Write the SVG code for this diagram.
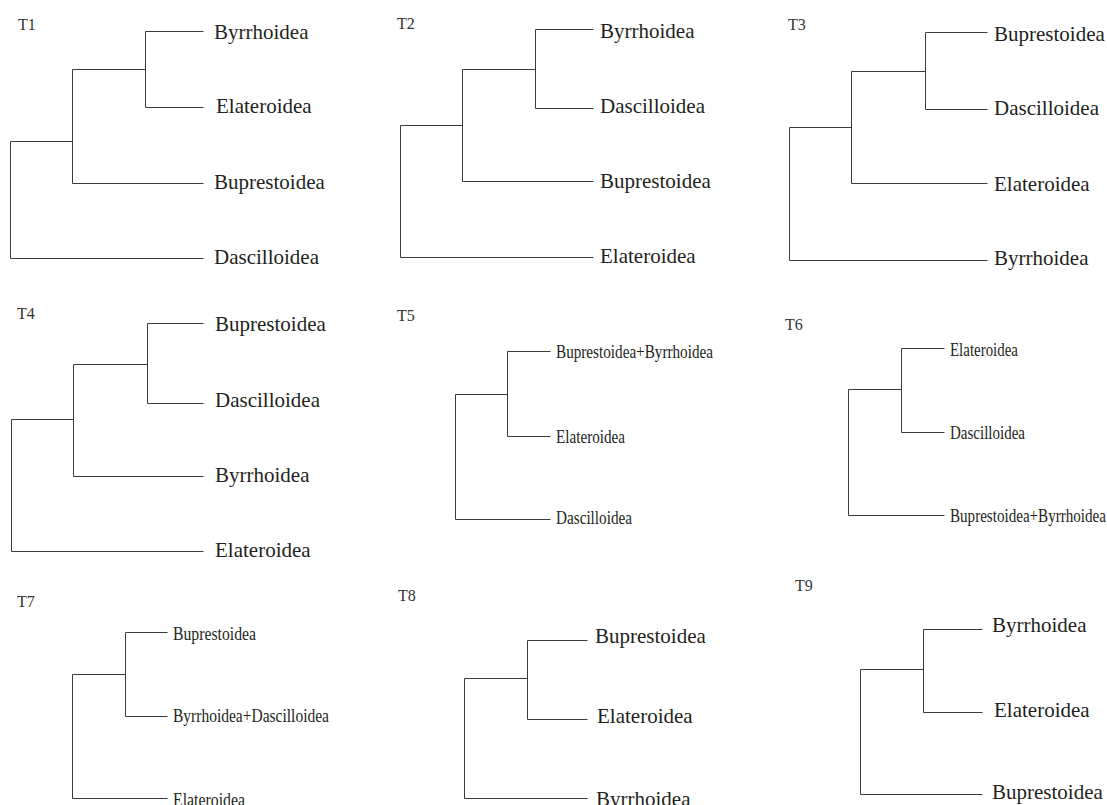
<svg xmlns="http://www.w3.org/2000/svg" width="1107" height="805" viewBox="0 0 1107 805">
<style>
.br{fill:none;stroke:#3a3a3a;stroke-width:1}
.tl{font-family:"Liberation Serif","Times New Roman",serif;font-size:16px;fill:#333}
.lf{font-family:"Liberation Serif","Times New Roman",serif;font-size:21px;fill:#231f20}
.lc{font-family:"Liberation Serif","Times New Roman",serif;font-size:19.5px;fill:#231f20}
</style>
<rect width="1107" height="805" fill="#fff"/>
<g id="connectors" transform="translate(0.5,0.5)">
<path class="br" d="M72,141 H10 V258 H203 M145,69 H72 V183 H203 M203,31 H145 V107 H203"/>
<path class="br" d="M462,125 H400 V257 H593 M535,69 H462 V181 H593 M593,29 H535 V108 H593"/>
<path class="br" d="M851,127 H789 V260 H987 M925,71 H851 V183 H987 M987,32 H925 V109 H987"/>
<path class="br" d="M73,419 H11 V551 H203 M147,364 H73 V476 H203 M203,323 H147 V403 H203"/>
<path class="br" d="M507,394 H455 V519 H550 M550,351 H507 V436 H550"/>
<path class="br" d="M901,389 H848 V515 H944 M944,348 H901 V432 H944"/>
<path class="br" d="M125,674 H72 V798 H167 M167,632 H125 V716 H167"/>
<path class="br" d="M527,678 H464 V798 H587 M587,640 H527 V719 H587"/>
<path class="br" d="M923,669 H860 V794 H982 M982,629 H923 V712 H982"/>
</g>
<g id="T1">
<text class="tl" x="18" y="30">T1</text>
<g id="t1-byrrhoidea"><text class="lf" x="214" y="39">Byrrhoidea</text></g>
<g id="t1-elateroidea"><text class="lf" x="216" y="113">Elateroidea</text></g>
<g id="t1-buprestoidea"><text class="lf" x="214" y="189">Buprestoidea</text></g>
<g id="t1-dascilloidea"><text class="lf" x="214" y="264">Dascilloidea</text></g>
</g>
<g id="T2">
<text class="tl" x="397" y="29">T2</text>
<g id="t2-byrrhoidea"><text class="lf" x="600" y="38">Byrrhoidea</text></g>
<g id="t2-dascilloidea"><text class="lf" x="600" y="113">Dascilloidea</text></g>
<g id="t2-buprestoidea"><text class="lf" x="600" y="188">Buprestoidea</text></g>
<g id="t2-elateroidea"><text class="lf" x="600" y="263">Elateroidea</text></g>
</g>
<g id="T3">
<text class="tl" x="788" y="30">T3</text>
<g id="t3-buprestoidea"><text class="lf" x="994" y="41">Buprestoidea</text></g>
<g id="t3-dascilloidea"><text class="lf" x="994" y="115">Dascilloidea</text></g>
<g id="t3-elateroidea"><text class="lf" x="994" y="191">Elateroidea</text></g>
<g id="t3-byrrhoidea"><text class="lf" x="994" y="265">Byrrhoidea</text></g>
</g>
<g id="T4">
<text class="tl" x="17" y="319">T4</text>
<g id="t4-buprestoidea"><text class="lf" x="215" y="331">Buprestoidea</text></g>
<g id="t4-dascilloidea"><text class="lf" x="215" y="407">Dascilloidea</text></g>
<g id="t4-byrrhoidea"><text class="lf" x="215" y="482">Byrrhoidea</text></g>
<g id="t4-elateroidea"><text class="lf" x="215" y="557">Elateroidea</text></g>
</g>
<g id="T5">
<text class="tl" x="397" y="321">T5</text>
<g id="t5-buprestoidea-byrrhoidea"><text class="lc" x="556" y="358" textLength="157" lengthAdjust="spacingAndGlyphs">Buprestoidea+Byrrhoidea</text></g>
<g id="t5-elateroidea"><text class="lc" x="556" y="443" textLength="69" lengthAdjust="spacingAndGlyphs">Elateroidea</text></g>
<g id="t5-dascilloidea"><text class="lc" x="556" y="524" textLength="76" lengthAdjust="spacingAndGlyphs">Dascilloidea</text></g>
</g>
<g id="T6">
<text class="tl" x="785" y="330">T6</text>
<g id="t6-elateroidea"><text class="lc" x="950" y="356" textLength="68" lengthAdjust="spacingAndGlyphs">Elateroidea</text></g>
<g id="t6-dascilloidea"><text class="lc" x="950" y="439" textLength="75" lengthAdjust="spacingAndGlyphs">Dascilloidea</text></g>
<g id="t6-buprestoidea-byrrhoidea"><text class="lc" x="950" y="522" textLength="156" lengthAdjust="spacingAndGlyphs">Buprestoidea+Byrrhoidea</text></g>
</g>
<g id="T7">
<text class="tl" x="17" y="607">T7</text>
<g id="t7-buprestoidea"><text class="lc" x="173" y="640" textLength="83" lengthAdjust="spacingAndGlyphs">Buprestoidea</text></g>
<g id="t7-byrrhoidea-dascilloidea"><text class="lc" x="173" y="722" textLength="156" lengthAdjust="spacingAndGlyphs">Byrrhoidea+Dascilloidea</text></g>
<g id="t7-elateroidea"><text class="lc" x="173" y="806" textLength="72" lengthAdjust="spacingAndGlyphs">Elateroidea</text></g>
</g>
<g id="T8">
<text class="tl" x="398" y="601">T8</text>
<g id="t8-buprestoidea"><text class="lf" x="595" y="643">Buprestoidea</text></g>
<g id="t8-elateroidea"><text class="lf" x="597" y="723">Elateroidea</text></g>
<g id="t8-byrrhoidea"><text class="lf" x="596" y="806">Byrrhoidea</text></g>
</g>
<g id="T9">
<text class="tl" x="795" y="591">T9</text>
<g id="t9-byrrhoidea"><text class="lf" x="992" y="632">Byrrhoidea</text></g>
<g id="t9-elateroidea"><text class="lf" x="994" y="717">Elateroidea</text></g>
<g id="t9-buprestoidea"><text class="lf" x="992" y="799">Buprestoidea</text></g>
</g>
</svg>
